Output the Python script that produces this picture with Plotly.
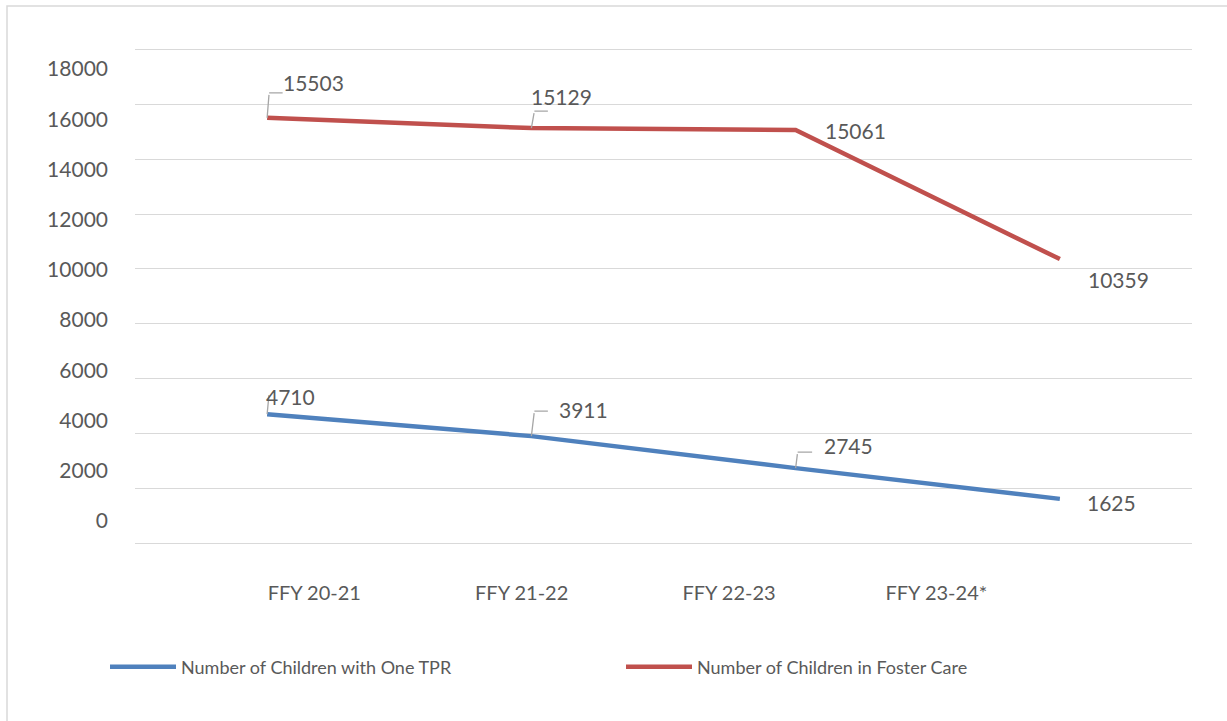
import plotly.graph_objects as go

# ---- data ----
categories = ["FFY 20-21", "FFY 21-22", "FFY 22-23", "FFY 23-24*"]
tpr_values = [4710, 3911, 2745, 1625]
foster_values = [15503, 15129, 15061, 10359]
series_names = ["Number of Children with One TPR", "Number of Children in Foster Care"]
y_ticks = list(range(0, 18001, 2000))

# ---- styles ----
FONT = "Lato"
TXT = "#595959"
BLUE = "#4F81BD"
RED = "#C0504D"
GRID = "#D9D9D9"
LEADER = "#A6A6A6"

# label offsets (px) relative to the point: text centre dx, dy (screen, down positive)
tpr_label_off = [(23, -18), (52, -27), (53, -23), (52, 4)]
foster_label_off = [(46, -35), (30, -32), (60, 1), (59, 20)]
# leader lines: (vertical end dx, dy, horizontal length) or None
tpr_leader = [(2, -21, 0), (3, -25, 15), (2, -16, 16), None]
foster_leader = [(2, -25, 15), (3, -17, 15), None, None]

fig = go.Figure()
fig.add_trace(go.Scatter(x=categories, y=tpr_values, mode="lines", name=series_names[0],
                         line=dict(color=BLUE, width=4.5), hoverinfo="skip"))
fig.add_trace(go.Scatter(x=categories, y=foster_values, mode="lines", name=series_names[1],
                         line=dict(color=RED, width=4.5), hoverinfo="skip"))
# invisible carrier trace so the label axes exist
idx = list(range(len(categories)))
fig.add_trace(go.Scatter(x=idx, y=tpr_values, xaxis="x2", yaxis="y2", mode="markers",
                         marker=dict(opacity=0), showlegend=False, hoverinfo="skip"))

annotations = []
for vals, offs, leaders in [(tpr_values, tpr_label_off, tpr_leader),
                            (foster_values, foster_label_off, foster_leader)]:
    for cat, v, (dx, dy), ld in zip(categories, vals, offs, leaders):
        if ld is not None:
            lx, ly, hl = ld
            annotations.append(dict(x=cat, y=v, xref="x", yref="y", text=" ",
                                    font=dict(size=1), showarrow=True, arrowhead=0,
                                    arrowwidth=1.3, arrowcolor=LEADER, ax=lx, ay=ly,
                                    standoff=0, startstandoff=0))
            if hl:
                annotations.append(dict(x=cat, y=v, xref="x", yref="y", text=" ",
                                        font=dict(size=1), showarrow=True, arrowhead=0,
                                        arrowwidth=1.3, arrowcolor=LEADER, ax=hl, ay=0,
                                        xshift=lx, yshift=-ly, standoff=0, startstandoff=0))
        annotations.append(dict(x=cat, y=v, xref="x", yref="y", text=str(v),
                                showarrow=False, xshift=dx, yshift=-dy,
                                xanchor="center", yanchor="middle",
                                font=dict(family=FONT, size=21, color=TXT)))

W, H = 1227, 721
L, R, T, B = 135, 35, 46, 174
pw, ph = W - L - R, H - T - B
# gridline pixel rows for 0 and the top tick in the reference
g0_px, gtop_px = 543.5, 49.3
gscale = (g0_px - gtop_px) / y_ticks[-1]
y_range = [(g0_px - (H - B)) / gscale, (g0_px - T) / gscale]

# label axes: positions of the labels differ from the data grid in the reference
xl_first, xl_step = 314.3, 207.35
x2_range = [(L - xl_first) / xl_step, (W - R - xl_first) / xl_step]
y0_px, y18_px = 521.0, 69.0
scale = (y0_px - y18_px) / y_ticks[-1]
y2_range = [(y0_px - (H - B)) / scale, (y0_px - T) / scale]

fig.update_layout(
    width=W, height=H,
    margin=dict(l=L, r=R, t=T, b=B),
    paper_bgcolor="white", plot_bgcolor="white",
    font=dict(family=FONT, color=TXT, size=18),
    xaxis=dict(type="category", range=[-0.5, len(categories) - 0.5],
               showticklabels=False, showgrid=False, zeroline=False, showline=False, ticks=""),
    yaxis=dict(range=y_range, tickvals=y_ticks, showticklabels=False,
               showgrid=True, gridcolor=GRID, gridwidth=1.3, zeroline=False, showline=False),
    xaxis2=dict(overlaying="x", anchor="y", side="bottom", range=x2_range,
                tickvals=idx, ticktext=categories, showgrid=False, zeroline=False,
                showline=False, ticks="", ticklabelstandoff=32,
                tickfont=dict(family=FONT, size=20, color=TXT)),
    yaxis2=dict(overlaying="y", anchor="x", side="left", range=y2_range,
                tickvals=y_ticks, tickformat="d", showgrid=False, zeroline=False,
                showline=False, ticks="", ticklabelstandoff=26,
                tickfont=dict(family=FONT, size=21, color=TXT)),
    showlegend=True,
    legend=dict(orientation="h", x=(105 - L) / pw, xanchor="left",
                y=(H - B - 667) / ph, yanchor="middle",
                itemwidth=66, entrywidth=435, entrywidthmode="pixels",
                font=dict(family=FONT, size=18, color=TXT), bgcolor="rgba(0,0,0,0)"),
    annotations=annotations,
    shapes=[dict(type="rect", xref="paper", yref="paper",
                 x0=(7 - L) / pw, x1=(W + 40 - L) / pw,
                 y0=(H - B - (H + 40)) / ph, y1=(H - B - 6) / ph,
                 line=dict(color=GRID, width=1.5), fillcolor="rgba(0,0,0,0)", layer="below")],
)

fig.write_html("out.html", config={"displayModeBar": False},
               post_script="document.body.style.margin='0';")
